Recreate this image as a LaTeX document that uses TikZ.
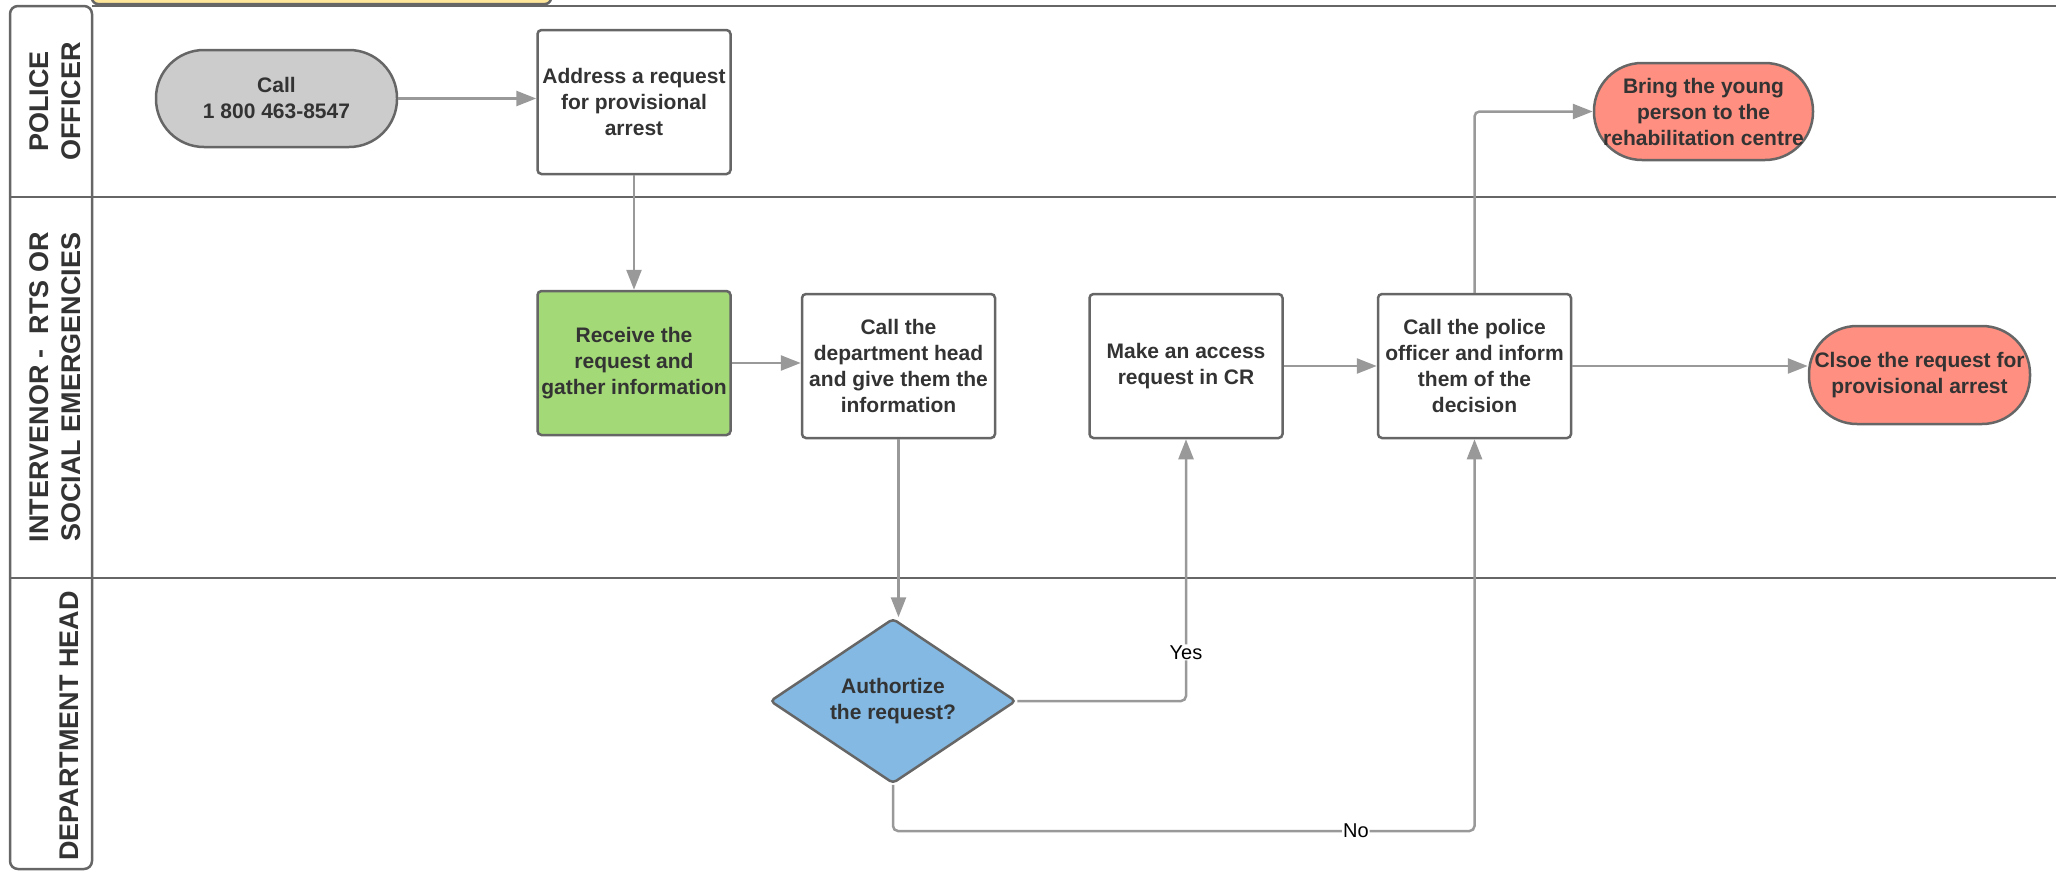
\documentclass[tikz,border=0pt]{standalone}
\usepackage{fontspec}
\setmainfont{Liberation Sans}
\usetikzlibrary{arrows.meta,shapes.geometric}
\definecolor{linegray}{HTML}{666666}
\definecolor{arrowgray}{HTML}{999999}
\definecolor{txt}{HTML}{333333}
\definecolor{callgray}{HTML}{CCCCCC}
\definecolor{recvgreen}{HTML}{A3D977}
\definecolor{diamblue}{HTML}{83B9E3}
\definecolor{endred}{HTML}{FF8F80}
\definecolor{noteyellow}{HTML}{FFE699}
\begin{document}
\begin{tikzpicture}[x=1pt,y=-1pt,
  boxfont/.style={font=\fontsize{21}{26}\selectfont\bfseries},
  box/.style={draw=linegray, line width=2.5pt, rounded corners=4pt, minimum width=193pt, minimum height=144pt, inner sep=0pt, align=center, text=txt, boxfont},
  term/.style={draw=linegray, line width=2.5pt, rounded corners=48pt, minimum height=97pt, inner sep=0pt, align=center, text=txt, boxfont},
  conn/.style={draw=arrowgray, line width=2.5pt, rounded corners=5pt, -{Triangle[length=20pt,width=15pt]}},
  lane/.style={rotate=90, align=center, font=\fontsize{27}{32}\selectfont\bfseries, text=txt},
  lbl/.style={fill=white, inner sep=1pt, font=\fontsize{20}{24}\selectfont}
]
\useasboundingbox (0,0) rectangle (2056,871);

% frame
\draw[draw=linegray, line width=2.5pt, fill=noteyellow, rounded corners=6pt] (92,-30) rectangle (551,4);
\draw[linegray, line width=2.5pt, rounded corners=8pt] (10,6) rectangle (92,869);
\draw[linegray, line width=2.5pt] (92,6) -- (2060,6);
\draw[linegray, line width=2.5pt] (10,197) -- (2060,197);
\draw[linegray, line width=2.5pt] (10,578) -- (2060,578);

% lane labels
\node[lane] (l1) at (55,101.5) {POLICE\\OFFICER};
\node[lane] (l2) at (55,387) {INTERVENOR -~~RTS OR\\SOCIAL EMERGENCIES};
\node[lane] (l3) at (69,726) {DEPARTMENT HEAD};

% nodes
\node[term, fill=callgray, minimum width=241pt] (call) at (276.5,98.5) {Call\\1 800 463-8547};
\node[box] (addr) at (634,102) {Address a request\\for provisional\\arrest};
\node[box, fill=recvgreen] (recv) at (634,363) {Receive the\\request and\\gather information};
\node[box] (dept) at (898.5,366) {Call the\\department head\\and give them the\\information};
\node[box] (make) at (1186,366) {Make an access\\request in CR};
\node[box] (cp) at (1474.5,366) {Call the police\\officer and inform\\them of the\\decision};
\node[term, fill=endred, minimum width=221pt, minimum height=98pt] (close) at (1919.5,375) {Clsoe the request for\\provisional arrest};
\node[term, fill=endred, minimum width=219pt] (bring) at (1703.5,111.5) {Bring the young\\person to the\\rehabilitation centre};
\node[diamond, aspect=1.5, draw=linegray, line width=2.5pt, rounded corners=4pt, fill=diamblue, minimum width=246pt, minimum height=165pt, inner sep=0pt, align=center, text=txt, boxfont] (diam) at (893,701) {Authortize\\the request?};

% connectors
\draw[conn] (call.east) -- (call.east -| addr.west);
\draw[conn] (addr.south) -- (recv.north);
\draw[conn] (recv.east) -- (recv.east -| dept.west);
\draw[conn] (dept.south) -- (dept.south |- diam.north);
\draw[conn] (diam.east) -| node[lbl, pos=0.593] {Yes} (make.south);
\draw[conn] (make.east) -- (cp.west);
\draw[conn] (cp.north) |- (bring.west);
\draw[conn] (cp.east) -- (cp.east -| close.west);
\coordinate (nobend) at (893,831);
\draw[conn] (diam.south) -- (nobend) -| node[lbl, pos=0.398] {No} (cp.south);
\end{tikzpicture}
\end{document}
